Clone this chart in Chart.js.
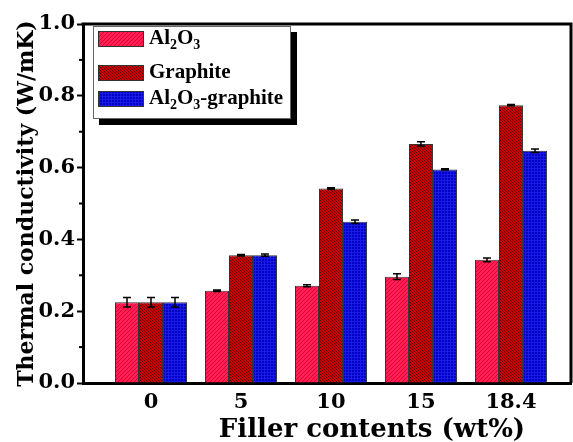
<!DOCTYPE html>
<html>
<head>
<meta charset="utf-8">
<script src="https://cdn.jsdelivr.net/npm/chart.js@4.4.0/dist/chart.umd.min.js"></script>
<style>
  html, body { margin: 0; padding: 0; background: #fff; }
  #wrap { width: 573px; height: 442px; }
</style>
</head>
<body>
<div id="wrap"><canvas id="chart"></canvas></div>
<script>
// Données
const fillerContents = ['0', '5', '10', '15', '18.4'];
const seriesLabels = ['Al2O3', 'Graphite', 'Al2O3-graphite'];
const al2o3 = [0.225, 0.257, 0.271, 0.296, 0.343];
const al2o3Err = [0.013, 0.002, 0.003, 0.008, 0.005];
const graphite = [0.225, 0.356, 0.542, 0.666, 0.774];
const graphiteErr = [0.013, 0.002, 0.002, 0.006, 0.002];
const hybrid = [0.225, 0.356, 0.449, 0.595, 0.647];
const hybridErr = [0.013, 0.003, 0.005, 0.002, 0.005];
const yTicks = [0, 0.2, 0.4, 0.6, 0.8, 1.0];
const xTitle = 'Filler contents (wt%)';

const FONT = 'DejaVu Serif';
const LEGEND_FONT = 'Liberation Serif';

// Motifs de hachures
function makePattern(kind) {
    const c = document.createElement('canvas');
    const ctx = c.getContext('2d');
    if (kind === 'diag') {
        c.width = 4; c.height = 4;
        ctx.fillStyle = '#ff1f52';
        ctx.fillRect(0, 0, 4, 4);
        ctx.strokeStyle = '#e00035';
        ctx.lineWidth = 1;
        ctx.beginPath();
        ctx.moveTo(-1, 5); ctx.lineTo(5, -1);
        ctx.stroke();
    } else if (kind === 'check') {
        c.width = 3; c.height = 3;
        ctx.fillStyle = '#d00000';
        ctx.fillRect(0, 0, 3, 3);
        ctx.fillStyle = '#600000';
        ctx.fillRect(0, 0, 1, 1);
        ctx.fillRect(1, 1, 1, 1);
        ctx.fillRect(2, 2, 1, 1);
    } else {
        c.width = 3; c.height = 3;
        ctx.fillStyle = '#0000c4';
        ctx.fillRect(0, 0, 3, 3);
        ctx.fillStyle = '#1a1ae6';
        ctx.fillRect(0, 0, 3, 1);
        ctx.fillRect(0, 0, 1, 3);
    }
    return document.createElement('canvas').getContext('2d').createPattern(c, 'repeat');
}

const patterns = [makePattern('diag'), makePattern('check'), makePattern('grid')];
const values = [al2o3, graphite, hybrid];
const errors = [al2o3Err, graphiteErr, hybridErr];

// Barres d'erreur
const errorBars = {
    id: 'errorBars',
    afterDatasetsDraw(chart) {
        const ctx = chart.ctx;
        const y = chart.scales.y;
        ctx.save();
        ctx.strokeStyle = '#000';
        ctx.lineWidth = 1.5;
        chart.data.datasets.forEach((ds, i) => {
            const meta = chart.getDatasetMeta(i);
            meta.data.forEach((bar, j) => {
                const v = values[i][j], e = errors[i][j];
                const yTop = y.getPixelForValue(v + e);
                const yBot = y.getPixelForValue(v - e);
                ctx.beginPath();
                ctx.moveTo(bar.x, yTop); ctx.lineTo(bar.x, yBot);
                ctx.moveTo(bar.x - 4, yTop); ctx.lineTo(bar.x + 4, yTop);
                ctx.moveTo(bar.x - 4, yBot); ctx.lineTo(bar.x + 4, yBot);
                ctx.stroke();
            });
        });
        ctx.restore();
    }
};

// Texte avec indices (Al2O3)
function drawRich(ctx, text, x, y, size) {
    const parts = text.split(/(\d)/).filter(p => p.length);
    parts.forEach(p => {
        const sub = /^\d$/.test(p);
        ctx.font = 'bold ' + (sub ? Math.round(size * 0.65) : size) + 'px "' + LEGEND_FONT + '"';
        ctx.fillText(p, x, sub ? y + size * 0.32 : y);
        x += ctx.measureText(p).width;
    });
}

// Cadre, petites graduations, titre X et légende
const decorations = {
    id: 'decorations',
    afterDraw(chart) {
        const ctx = chart.ctx;
        const a = chart.chartArea;
        const y = chart.scales.y;
        ctx.save();
        ctx.strokeStyle = '#000';
        ctx.lineWidth = 3;
        ctx.beginPath();
        ctx.moveTo(a.left - 1.5, a.top); ctx.lineTo(a.right, a.top); ctx.lineTo(a.right, a.bottom);
        ctx.stroke();
        // graduations mineures
        ctx.lineWidth = 2;
        for (let k = 0; k < yTicks.length - 1; k++) {
            const py = y.getPixelForValue((yTicks[k] + yTicks[k + 1]) / 2);
            ctx.beginPath();
            ctx.moveTo(a.left - 4, py); ctx.lineTo(a.left, py);
            ctx.stroke();
        }
        // titre de l'axe X (décalé vers la droite comme sur la figure)
        ctx.fillStyle = '#000';
        ctx.font = 'bold 26px "' + FONT + '"';
        ctx.textAlign = 'center';
        ctx.textBaseline = 'middle';
        ctx.fillText(xTitle, 372, 430);
        ctx.textAlign = 'left';
        // légende
        const lx = 93, ly = 26, lw = 198, lh = 93;
        ctx.fillStyle = '#000';
        ctx.fillRect(lx + 6, ly + 6, lw, lh);
        ctx.fillStyle = '#fff';
        ctx.fillRect(lx, ly, lw, lh);
        ctx.strokeStyle = '#666';
        ctx.lineWidth = 1;
        ctx.strokeRect(lx + 0.5, ly + 0.5, lw - 1, lh - 1);
        const rows = [39, 73, 99];
        seriesLabels.forEach((lab, i) => {
            const ry = rows[i];
            ctx.fillStyle = patterns[i];
            ctx.fillRect(98, ry - 8, 46, 16);
            ctx.strokeStyle = '#333';
            ctx.strokeRect(98.5, ry - 7.5, 45, 15);
            ctx.fillStyle = '#000';
            ctx.textBaseline = 'middle';
            drawRich(ctx, lab, 149, ry, 21);
        });
        ctx.restore();
    }
};

const datasets = values.map((vals, i) => ({
    label: seriesLabels[i],
    data: vals.map((v, j) => ({ x: j, y: v })),
    backgroundColor: patterns[i],
    borderColor: '#333',
    borderWidth: 1,
    categoryPercentage: 0.8,
    barPercentage: 1.0
}));

new Chart(document.getElementById('chart'), {
    type: 'bar',
    data: { datasets: datasets },
    options: {
        responsive: true,
        maintainAspectRatio: false,
        animation: false,
        layout: { padding: { top: 24, right: 2, left: 0, bottom: 0 } },
        plugins: { legend: { display: false }, tooltip: { enabled: false } },
        scales: {
            x: {
                type: 'linear',
                offset: false,
                min: -0.7556,
                max: 4.667,
                afterBuildTicks: (s) => { s.ticks = fillerContents.map((c, i) => ({ value: i })); },
                afterFit: (s) => { s.height = 59; },
                grid: { display: false, drawTicks: false },
                border: { display: true, color: '#000', width: 3 },
                ticks: {
                    padding: 7,
                    color: '#000',
                    font: { family: FONT, size: 21, weight: 'bold' },
                    callback: (v) => fillerContents[v]
                }
            },
            y: {
                min: 0,
                max: 1.0,
                afterBuildTicks: (s) => { s.ticks = yTicks.map(v => ({ value: v })); },
                afterFit: (s) => { s.width = 83; },
                grid: { drawOnChartArea: false, tickLength: 6, tickWidth: 2, tickColor: '#000' },
                border: { display: true, color: '#000', width: 3 },
                ticks: {
                    padding: 2,
                    color: '#000',
                    font: { family: FONT, size: 21, weight: 'bold' },
                    callback: (v) => v.toFixed(1)
                },
                title: {
                    display: true,
                    text: 'Thermal conductivity (W/mK)',
                    color: '#000',
                    padding: { top: 16, bottom: 0 },
                    font: { family: FONT, size: 22, weight: 'bold', lineHeight: 1 }
                }
            }
        }
    },
    plugins: [errorBars, decorations]
});
</script>
</body>
</html>
